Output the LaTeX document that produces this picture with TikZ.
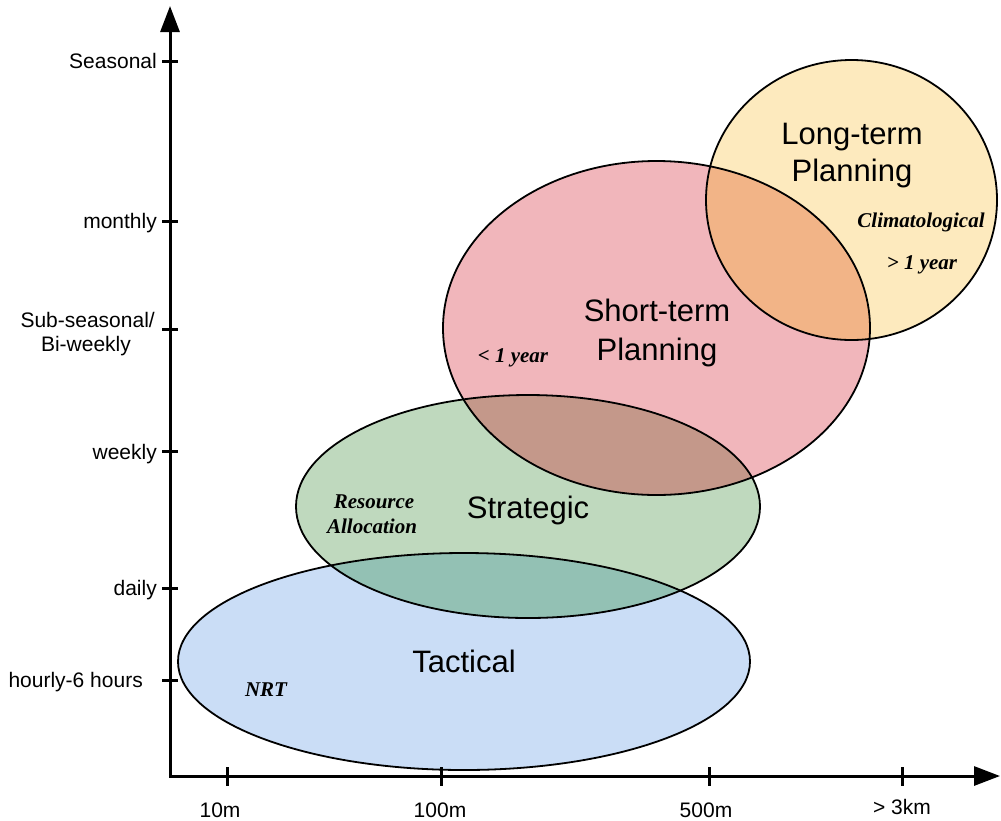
\documentclass[tikz,border=0pt]{standalone}
\usepackage{fontspec}
\setmainfont{Liberation Sans}
\newfontfamily\tnr{Liberation Serif}
\usetikzlibrary{arrows.meta}
\definecolor{cblue}{HTML}{CADDF6}
\definecolor{cgreen}{HTML}{BFD9BE}
\definecolor{cbg}{HTML}{93C1B4}
\definecolor{cpink}{HTML}{F1B6BB}
\definecolor{cgp}{HTML}{C4988A}
\definecolor{cyellow}{HTML}{FDEABE}
\definecolor{cpy}{HTML}{F2B487}
\begin{document}
\begin{tikzpicture}[x=1pt,y=-1pt,
  axislbl/.style={font=\fontsize{21}{24}\selectfont, inner sep=0pt},
  biglbl/.style={font=\fontsize{31}{37}\selectfont, inner sep=0pt, anchor=base},
  notelbl/.style={font=\tnr\bfseries\itshape\fontsize{21}{25}\selectfont, inner sep=0pt, anchor=base},
  outline/.style={draw=black, line width=1.8pt},
  axisline/.style={line width=3pt, line join=miter},
  tickline/.style={line width=3pt}]
\useasboundingbox (0,0) rectangle (1001,820);
% fills
\fill[cblue] (464,661.5) ellipse [x radius=286pt, y radius=108.5pt];
\fill[cgreen] (528,506.5) ellipse [x radius=232pt, y radius=111.5pt];
\fill[cpink] (656.5,328) ellipse [x radius=213.5pt, y radius=167pt];
\fill[cyellow] (851.5,200) ellipse [x radius=145.5pt, y radius=140pt];
% overlaps
\begin{scope}
  \clip (528,506.5) ellipse [x radius=232pt, y radius=111.5pt];
  \fill[cbg] (464,661.5) ellipse [x radius=286pt, y radius=108.5pt];
  \fill[cgp] (656.5,328) ellipse [x radius=213.5pt, y radius=167pt];
\end{scope}
\begin{scope}
  \clip (851.5,200) ellipse [x radius=145.5pt, y radius=140pt];
  \fill[cpy] (656.5,328) ellipse [x radius=213.5pt, y radius=167pt];
\end{scope}
% outlines
\draw[outline] (464,661.5) ellipse [x radius=286pt, y radius=108.5pt];
\draw[outline] (528,506.5) ellipse [x radius=232pt, y radius=111.5pt];
\draw[outline] (656.5,328) ellipse [x radius=213.5pt, y radius=167pt];
\draw[outline] (851.5,200) ellipse [x radius=145.5pt, y radius=140pt];
% axes
\coordinate (O) at (170,776);
\coordinate (ytip) at (170,6);
\coordinate (xtip) at (1000,776);
\draw[axisline, {Triangle[length=26pt,width=19pt]}-{Triangle[length=26pt,width=19pt]}] (ytip) -- (O) -- (xtip);
% y ticks
\foreach \yy in {61,221,329,451,588,680} {
  \draw[tickline] (162,\yy) -- (178,\yy);
}
% x ticks
\foreach \xx in {227,441,709,902} {
  \draw[tickline] (\xx,767) -- (\xx,786);
}
% y labels
\node[axislbl, anchor=base east] (lseas) at (157,68) {Seasonal};
\node[axislbl, anchor=base east] (lmon) at (157,228) {monthly};
\node[axislbl, anchor=base east] (lsub) at (155,327) {Sub-seasonal/};
\node[axislbl, anchor=base] (lbi) at (86,351) {Bi-weekly};
\node[axislbl, anchor=base east] (lweek) at (157,459) {weekly};
\node[axislbl, anchor=base east] (lday) at (157,595) {daily};
\node[axislbl, anchor=base east] (lhour) at (143,687) {hourly-6 hours};
% x labels
\node[axislbl, anchor=base] (l10) at (220,817) {10m};
\node[axislbl, anchor=base] (l100) at (440,817) {100m};
\node[axislbl, anchor=base] (l500) at (706,817) {500m};
\node[axislbl, anchor=base] (l3k) at (902,814) {> 3km};
% big labels
\node[biglbl] (lt1) at (852,144) {Long-term};
\node[biglbl] (lt2) at (852,181) {Planning};
\node[biglbl] (st1) at (657,321) {Short-term};
\node[biglbl] (st2) at (657,360) {Planning};
\node[biglbl] (strat) at (528,518) {Strategic};
\node[biglbl] (tact) at (464,672) {Tactical};
% notes
\node[notelbl] (clim) at (921,227) {Climatological};
\node[notelbl] (gt) at (922,269) {> 1 year};
\node[notelbl] (lty) at (513,362) {< 1 year};
\node[notelbl] (res) at (374,508) {Resource};
\node[notelbl] (alloc) at (372,533) {Allocation};
\node[notelbl] (nrt) at (266,696) {NRT};
\end{tikzpicture}
\end{document}
